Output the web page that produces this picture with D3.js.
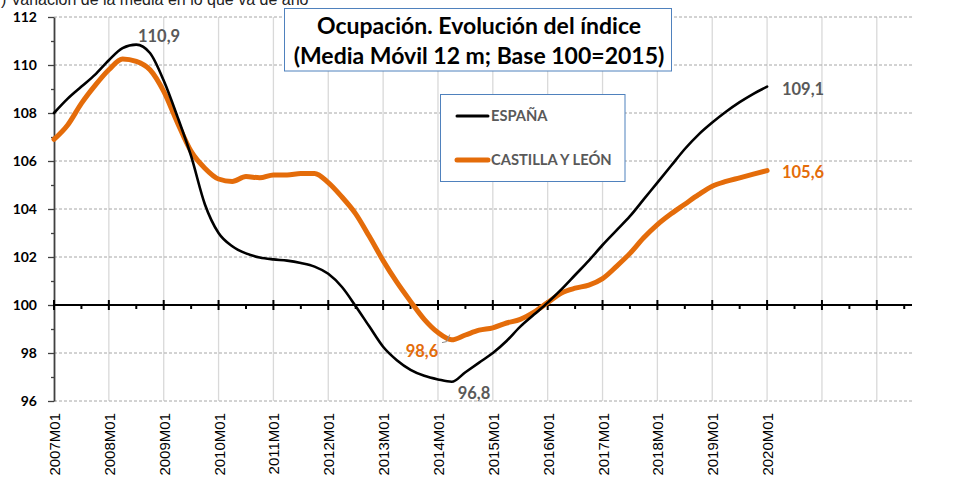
<!DOCTYPE html>
<html><head><meta charset="utf-8">
<script src="https://cdn.jsdelivr.net/npm/d3@7"></script>
<style>body{margin:0;background:#fff}svg{display:block}</style>
</head><body>
<svg id="chart" width="962" height="479"></svg>
<script>
// Month index 0 = 2007M01; values every 3 months up to 2020M01
const months = d3.range(0, 157, 3);
const espana = [108.0,108.6,109.1,109.6,110.2,110.7,110.85,110.5,109.35,107.85,106.2,104.2,
  103.0,102.45,102.15,101.98,101.9,101.85,101.75,101.6,101.3,100.75,99.95,99.1,
  98.26,97.7,97.3,97.05,96.9,96.8,97.2,97.6,98.0,98.5,99.1,99.6,
  100.1,100.65,101.25,101.85,102.5,103.1,103.7,104.4,105.1,105.8,106.5,107.1,
  107.6,108.05,108.45,108.8,109.1];
const cyl = [106.9,107.5,108.4,109.15,109.8,110.25,110.15,109.8,108.9,107.6,106.4,105.7,
  105.25,105.15,105.35,105.3,105.42,105.42,105.48,105.48,105.1,104.5,103.8,102.85,
  101.85,100.95,100.15,99.4,98.85,98.55,98.75,98.95,99.05,99.25,99.4,99.7,
  100.1,100.5,100.7,100.83,101.1,101.6,102.15,102.8,103.35,103.8,104.2,104.6,
  104.95,105.15,105.3,105.45,105.6];
const yearLabels = ["2007M01","2008M01","2009M01","2010M01","2011M01","2012M01","2013M01",
  "2014M01","2015M01","2016M01","2017M01","2018M01","2019M01","2020M01"];
const gridYears = d3.range(0, 16); // 2007..2022
const yTicks = [96,98,100,102,104,106,108,110,112];
const seriesNames = ["ESPAÑA","CASTILLA Y LEÓN"];
const titleLines = ["Ocupación. Evolución del índice","(Media Móvil 12 m; Base 100=2015)"];
const noteText = "(*) Variación de la media en lo que va de año";
const annotations = [
  {s:0, m:17, v:110.9, text:"110,9"},
  {s:0, m:156, v:109.1, text:"109,1"},
  {s:1, m:156, v:105.6, text:"105,6"},
  {s:1, m:87, v:98.6, text:"98,6"},
  {s:0, m:86, v:96.8, text:"96,8"}
];

const colors = ["#000000","#E46C0A"];
const svg = d3.select("#chart");
const x = d3.scaleLinear().domain([0, 187.7]).range([54, 912]);
const y = d3.scaleLinear().domain([96, 112]).range([401, 17]);
const BOLD = "Lato, 'Open Sans', sans-serif";

// top note (cropped like the reference)
const note = svg.append("text").attr("y", 5).attr("font-family","'Liberation Sans', Arial, sans-serif")
  .attr("font-size", 16).attr("fill","#222").text(noteText);
const tmp = svg.append("text").attr("font-family","'Liberation Sans', Arial, sans-serif").attr("font-size",16).text("(*");
const off = tmp.node().getComputedTextLength(); tmp.remove();
note.attr("x", 1 - off);

// vertical gridlines
svg.append("g").selectAll("line").data(gridYears.slice(1)).join("line")
  .attr("x1", d => x(d*12)).attr("x2", d => x(d*12))
  .attr("y1", y(112)).attr("y2", y(96))
  .attr("stroke", "#D9D9D9").attr("stroke-width", 1.3);

// horizontal dashed gridlines
svg.append("g").selectAll("line").data(yTicks.filter(d => d !== 100)).join("line")
  .attr("x1", x(0)).attr("x2", x.range()[1])
  .attr("y1", d => y(d)).attr("y2", d => y(d))
  .attr("stroke", "#A6A6A6").attr("stroke-width", 1).attr("stroke-dasharray", "3,2");

// y axis
const yAxis = d3.axisLeft(y).tickValues(d3.range(96, 113, 1)).tickSize(0).tickFormat("");
const ga = svg.append("g").attr("transform", `translate(${x(0)},0)`).call(yAxis);
ga.select(".domain").attr("stroke", "#404040").attr("stroke-width", 1.8);
ga.selectAll(".tick line").attr("x2", d => d % 2 === 0 ? -6 : -3).attr("stroke","#404040").attr("stroke-width",1.3);
svg.append("g").selectAll("text").data(yTicks).join("text")
  .attr("x", 37).attr("y", d => y(d)).attr("dy", "0.36em").attr("text-anchor", "end")
  .attr("font-family", BOLD).attr("font-weight", "bold").attr("font-size", 14).attr("fill","#000")
  .text(d => d);

// x axis at 100
const xg = svg.append("g");
xg.append("line").attr("x1", x(0)).attr("x2", x.range()[1]).attr("y1", y(100)).attr("y2", y(100))
  .attr("stroke", "#000").attr("stroke-width", 2);
xg.selectAll("line.maj").data(gridYears).join("line").attr("class","maj")
  .attr("x1", d => x(d*12)).attr("x2", d => x(d*12)).attr("y1", y(100)-5).attr("y2", y(100)+5)
  .attr("stroke", "#000").attr("stroke-width", 2);
xg.selectAll("line.min").data(gridYears.map(d => d*12+6)).join("line").attr("class","min")
  .attr("x1", d => x(d)).attr("x2", d => x(d)).attr("y1", y(100)).attr("y2", y(100)+4)
  .attr("stroke", "#000").attr("stroke-width", 2);

// x labels (rotated)
svg.append("g").selectAll("text").data(yearLabels).join("text")
  .attr("transform", (d,i) => `translate(${x(i*12)+6},413) rotate(-90)`)
  .attr("text-anchor", "end").attr("font-family","'Liberation Sans', Arial, sans-serif")
  .attr("font-size", 15).attr("fill","#000").text(d => d);

// lines
const line = d3.line().x((d,i) => x(months[i])).y(d => y(d)).curve(d3.curveMonotoneX);
svg.append("path").datum(cyl).attr("d", line).attr("fill","none").attr("stroke", colors[1])
  .attr("stroke-width", 5).attr("stroke-linejoin","round").attr("stroke-linecap","round");
svg.append("path").datum(espana).attr("d", line).attr("fill","none").attr("stroke", colors[0])
  .attr("stroke-width", 2.6).attr("stroke-linejoin","round").attr("stroke-linecap","round");

// annotations
const annPos = [[159,42],[803,95],[803,178],[422,357],[474,399]];
svg.append("path").attr("d", `M${annPos[3][0]+20},${y(98.6)+4} L${x(87)-5},${y(98.6)+3} L${x(87)-2},${y(98.6)-4}`)
  .attr("fill","none").attr("stroke","#8C8C8C").attr("stroke-width",1);
svg.append("g").selectAll("text").data(annotations).join("text")
  .attr("x", (d,i) => annPos[i][0]).attr("y", (d,i) => annPos[i][1]).attr("text-anchor","middle")
  .attr("font-family", BOLD).attr("font-weight","bold").attr("font-size", 16.5)
  .attr("fill", d => d.s === 1 ? colors[1] : "#595959").text(d => d.text);

// title box
svg.append("rect").attr("x", 284.5).attr("y", 8.5).attr("width", 387).attr("height", 62.5)
  .attr("fill","#fff").attr("stroke","#4F81BD").attr("stroke-width",1);
svg.append("g").selectAll("text").data(titleLines).join("text")
  .attr("x", 479).attr("y", (d,i) => 34 + i*29.5).attr("text-anchor","middle")
  .attr("font-family", BOLD).attr("font-weight","bold").attr("font-size", 23).attr("fill","#000")
  .text(d => d);

// legend box
svg.append("rect").attr("x", 440.5).attr("y", 94.5).attr("width", 184.5).attr("height", 87)
  .attr("fill","#fff").attr("stroke","#4F81BD").attr("stroke-width",1);
const lg = svg.append("g").selectAll("g").data(seriesNames).join("g")
  .attr("transform", (d,i) => `translate(0,${116 + i*44})`);
lg.append("line").attr("x1", 457).attr("x2", 488).attr("y1",0).attr("y2",0)
  .attr("stroke", (d,i) => colors[i]).attr("stroke-width", (d,i) => i ? 5 : 3).attr("stroke-linecap","round");
lg.append("text").attr("x", 491).attr("y", 0).attr("dy","0.36em")
  .attr("font-family", BOLD).attr("font-weight","bold").attr("font-size", 14.7).attr("fill","#595959")
  .text(d => d);
</script>
</body></html>
